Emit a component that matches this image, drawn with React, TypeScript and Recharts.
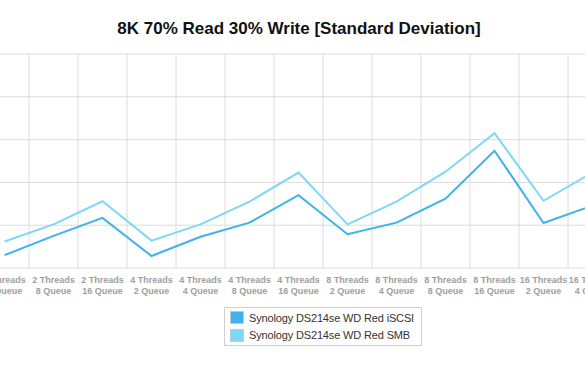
import { LineChart, Line, XAxis, YAxis, CartesianGrid } from "recharts";

const threads = ["2", "2", "2", "4", "4", "4", "4", "8", "8", "8", "8", "16", "16"];
const queues = ["4", "8", "16", "2", "4", "8", "16", "2", "4", "8", "16", "2", "4"];
const iscsi = [0.3, 0.75, 1.17, 0.28, 0.73, 1.06, 1.7, 0.79, 1.06, 1.62, 2.74, 1.05, 1.46];
const smb = [0.62, 1.02, 1.56, 0.64, 1.02, 1.55, 2.23, 1.02, 1.55, 2.25, 3.15, 1.57, 2.23];
const yTicks = [0, 1, 2, 3, 4, 5];

const ISCSI_COLOR = "#3cb3ea";
const SMB_COLOR = "#7fd7f7";

const data = threads.map((t, i) => ({
  name: `${t} Threads ${queues[i]} Queue`,
  threads: t,
  queue: queues[i],
  iscsi: iscsi[i],
  smb: smb[i],
}));

const FONT = "'Liberation Sans', Arial, Helvetica, sans-serif";

function Tick(props: any) {
  const { x, y, payload } = props;
  const row = data[payload.index];
  return (
    <text
      x={x}
      y={y}
      textAnchor="middle"
      fill="#a0a0a0"
      fontSize={9}
      fontWeight="bold"
      fontFamily={FONT}
    >
      <tspan x={x} dy={6.5}>{`${row.threads} Threads`}</tspan>
      <tspan x={x} dy={11}>{`${row.queue} Queue`}</tspan>
    </text>
  );
}

function LegendBox() {
  const items = [
    { label: "Synology DS214se WD Red iSCSI", color: ISCSI_COLOR },
    { label: "Synology DS214se WD Red SMB", color: SMB_COLOR },
  ];
  return (
    <div
      style={{
        position: "absolute",
        left: 224,
        top: 307,
        width: 191,
        height: 36,
        border: "1px solid #cfcfcf",
        padding: "1px 0 0 5px",
        boxSizing: "content-box",
        fontFamily: FONT,
        fontSize: 11,
        letterSpacing: -0.15,
        color: "#333",
        background: "#fff",
        whiteSpace: "nowrap",
      }}
    >
      {items.map((it) => (
        <div key={it.label} style={{ display: "flex", alignItems: "center", height: 17.5 }}>
          <span
            style={{
              display: "inline-block",
              flexShrink: 0,
              width: 12,
              height: 11,
              background: it.color,
              border: "1px solid #c8c8c8",
              marginRight: 5,
            }}
          />
          <span>{it.label}</span>
        </div>
      ))}
    </div>
  );
}

export default function App() {
  return (
    <div
      style={{
        position: "absolute",
        left: 0,
        top: 0,
        width: 585,
        height: 365,
        overflow: "hidden",
        background: "#fff",
      }}
    >
      <div
        style={{
          position: "absolute",
          left: 0,
          width: 598,
          top: 19,
          textAlign: "center",
          fontFamily: FONT,
          fontSize: 17,
          fontWeight: "bold",
          color: "#111",
        }}
      >
        8K 70% Read 30% Write [Standard Deviation]
      </div>
      <div style={{ position: "absolute", left: -20, top: 0 }}>
        <LineChart
          width={637}
          height={365}
          data={data}
          margin={{ top: 54, right: 0, bottom: 57, left: 0 }}
        >
          <CartesianGrid
            stroke="#dcdcdc"
            strokeWidth={1}
            verticalCoordinatesGenerator={({ offset }: any) => {
              const step = offset.width / data.length;
              return data.slice(1).map((_, i) => offset.left + step * (i + 1));
            }}
          />
          <XAxis
            dataKey="name"
            interval={0}
            tickLine={false}
            axisLine={false}
            height={40}
            padding={{ left: 24.5, right: 24.5 }}
            tick={<Tick />}
          />
          <YAxis hide domain={[0, 5]} ticks={yTicks} />
          <Line
            type="linear"
            dataKey="iscsi"
            name="Synology DS214se WD Red iSCSI"
            stroke={ISCSI_COLOR}
            strokeWidth={2}
            dot={false}
            isAnimationActive={false}
          />
          <Line
            type="linear"
            dataKey="smb"
            name="Synology DS214se WD Red SMB"
            stroke={SMB_COLOR}
            strokeWidth={2}
            dot={false}
            isAnimationActive={false}
          />
        </LineChart>
      </div>
      <LegendBox />
    </div>
  );
}
